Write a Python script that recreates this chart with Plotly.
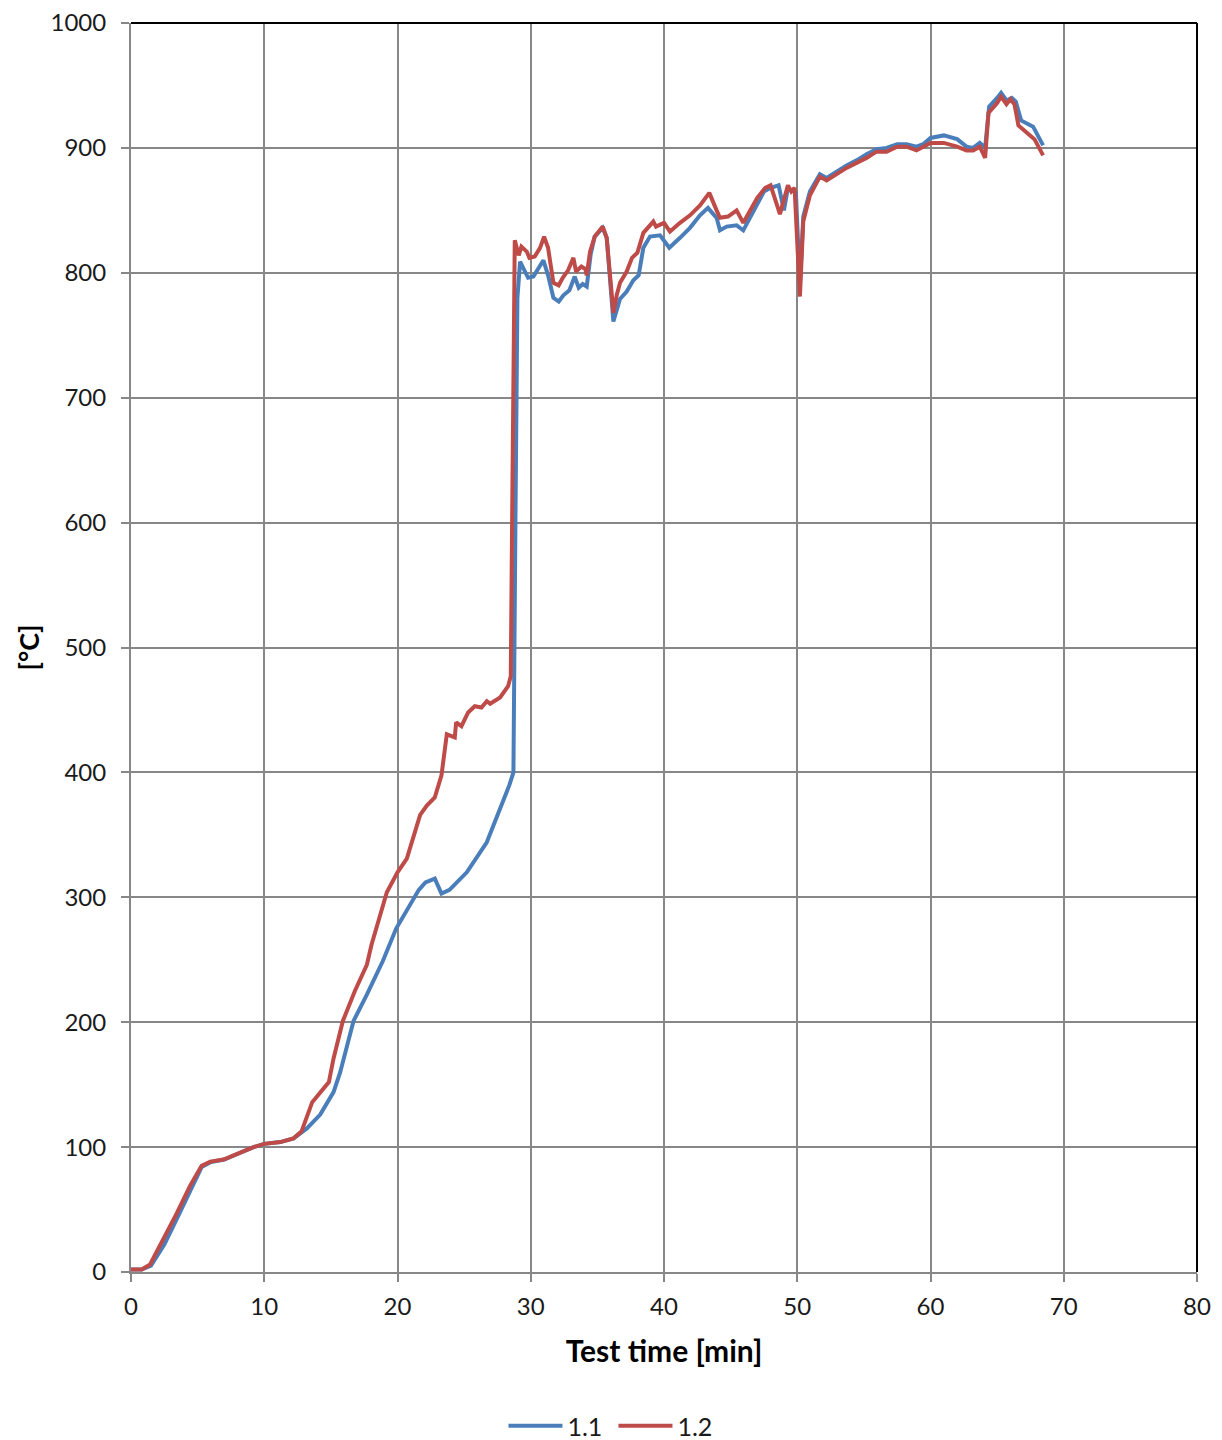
import plotly.graph_objects as go

# Series 1.1 (blue)
t_11 = [0, 0.8, 1.5, 2.5, 3.5, 4.5, 5.3, 6.0, 7.0, 8.2, 9.2, 10, 11.2, 12.2, 13.2, 14.2, 15.2, 15.7,
        16.7, 17.7, 18.9, 19.9, 20.8, 21.6, 22.1, 22.8, 23.3, 23.9, 25.2, 26.7, 28.4, 28.7, 28.85,
        29.0, 29.2, 29.45, 29.8, 30.2, 30.6, 30.95, 31.3, 31.7, 32.1, 32.45, 32.9, 33.3, 33.6, 33.9,
        34.2, 34.5, 34.8, 35.4, 35.7, 36.0, 36.2, 36.7, 37.2, 37.7, 38.1, 38.45, 38.95, 39.7, 40.0,
        40.4, 41.2, 41.95, 42.7, 43.3, 43.95, 44.2, 44.7, 45.45, 45.95, 46.45, 46.7, 47.5, 48.0,
        48.6, 49.0, 49.3, 49.6, 49.9, 50.2, 50.45, 50.95, 51.7, 52.2, 52.8, 53.7, 54.45, 55.2,
        55.95, 56.7, 57.5, 58.2, 58.95, 59.45, 60.0, 61.0, 62.0, 62.7, 63.2, 63.7, 64.1, 64.4,
        65.0, 65.3, 65.7, 66.1, 66.4, 66.8, 67.7, 68.45]
temp_11 = [2, 2, 5, 22, 44, 67, 84, 88, 90, 95.5, 100, 102.6, 104, 107, 115, 126, 144, 160,
           201, 222, 249, 275, 291, 306, 312, 315, 303, 306, 320, 344, 390, 400, 600,
           780, 809, 804, 796, 797, 804, 810, 798, 780, 777, 782, 786, 797, 788, 791,
           789, 815, 829, 836, 828, 790, 761, 779, 785, 794, 798, 820, 829, 830, 826,
           820, 828, 836, 846, 852, 844, 834, 837, 838, 834, 844, 850, 865, 868,
           870, 850, 868, 866, 864, 790, 845, 865, 879, 876, 880, 886, 890, 895,
           899, 900, 903, 903, 901, 903, 908, 910, 907, 901, 900, 904, 900, 933,
           940, 944, 938, 940, 937, 922, 917, 902]

# Series 1.2 (red)
t_12 = [0, 0.8, 1.43, 2.43, 3.43, 4.43, 5.3, 5.95, 6.95, 8.2, 9.2, 10, 11.2, 12.2, 12.8, 13.6,
        14.85, 15.2, 15.9, 16.8, 17.7, 18.05, 18.7, 19.2, 20, 20.7, 21.7, 22.2, 22.8, 23.3, 23.7,
        24.3, 24.4, 24.8, 25.3, 25.8, 26.3, 26.7, 26.95, 27.7, 28.3, 28.5, 28.6, 28.7, 28.8, 29.1,
        29.3, 29.7, 29.9, 30.3, 30.7, 31.0, 31.3, 31.7, 32.1, 32.4, 32.8, 33.2, 33.4, 33.8, 34.1,
        34.2, 34.45, 34.8, 35.4, 35.7, 36.1, 36.2, 36.45, 36.7, 37.2, 37.6, 38.0, 38.45, 39.2,
        39.4, 40.0, 40.45, 41.2, 41.95, 42.7, 43.4, 43.95, 44.2, 44.8, 45.45, 45.95, 46.45, 47.0,
        47.6, 48.0, 48.7, 49.3, 49.55, 49.8, 50.2, 50.45, 50.95, 51.7, 52.2, 52.8, 53.7, 54.45,
        55.2, 55.95, 56.7, 57.5, 58.2, 58.95, 59.45, 60.0, 61.0, 62.0, 62.7, 63.2, 63.7, 64.1,
        64.35, 65.0, 65.3, 65.7, 66.0, 66.3, 66.6, 67.2, 67.8, 68.45]
temp_12 = [2, 2, 6, 26, 47, 69, 85, 88.4, 90, 95.5, 100, 102.6, 104, 107, 112.6, 136,
           152, 171, 201, 225, 246, 262, 286, 304, 320, 331, 366, 373.5, 380, 397.6, 430.5,
           428, 440, 437, 448, 453, 452, 457, 455, 460, 469, 477, 600, 737, 826, 814,
           821, 817, 812, 813, 820, 829, 820, 792, 790, 796, 802, 812, 801, 805, 803,
           798, 817, 829, 837, 828, 782, 768, 782, 792, 801, 812, 816, 832, 841,
           837, 840, 833, 840, 846, 854, 864, 850, 844, 845, 850, 840, 850, 860,
           868, 870, 847, 870, 865, 868, 781, 841, 862, 877, 874, 878, 884, 888,
           892, 897, 897, 901, 901, 898, 901, 904, 904, 901, 898, 898, 901, 892,
           928, 936, 941, 935, 939, 935, 918, 913, 907, 894]

x_ticks = [0, 10, 20, 30, 40, 50, 60, 70, 80]
y_ticks = [0, 100, 200, 300, 400, 500, 600, 700, 800, 900, 1000]

BLUE = "#4A7EBB"
RED = "#BE4B48"
GRID = "#878787"
FONT = "Lato"

fig = go.Figure()
fig.add_trace(go.Scatter(x=t_11, y=temp_11, mode="lines", name="1.1",
                         line=dict(color=BLUE, width=4)))
fig.add_trace(go.Scatter(x=t_12, y=temp_12, mode="lines", name="1.2",
                         line=dict(color=RED, width=4)))

axis_common = dict(showgrid=True, gridcolor=GRID, gridwidth=2, showline=True,
                   linecolor=GRID, linewidth=2, ticks="outside", ticklen=8,
                   tickcolor=GRID, tickwidth=2, zeroline=False, automargin=False,
                   ticklabeloverflow="allow",
                   tickfont=dict(family=FONT, size=24, color="#1a1a1a"))

fig.update_xaxes(range=[0, 80], tickvals=x_ticks, ticklabelstandoff=4, **axis_common,
                 title=dict(text="<b>Test time [min]</b>", standoff=22,
                            font=dict(family=FONT, size=30, color="black")))
fig.update_yaxes(range=[0, 1000], tickvals=y_ticks, ticklabelstandoff=10, **axis_common,
                 title=dict(text="<b>[°C]</b>", standoff=3,
                            font=dict(family=FONT, size=27, color="black")))

# black frame on top and right
fig.add_shape(type="line", xref="paper", yref="paper", x0=0, x1=1, y0=1, y1=1,
              line=dict(color="black", width=2))
fig.add_shape(type="line", xref="paper", yref="paper", x0=1, x1=1, y0=0, y1=1,
              line=dict(color="black", width=2))

fig.update_layout(
    width=1222, height=1460,
    margin=dict(l=123, r=33, t=15, b=196),
    plot_bgcolor="white", paper_bgcolor="white",
    showlegend=True,
    legend=dict(orientation="h", x=0.4526, xanchor="center", y=-0.1233, yanchor="middle",
                font=dict(family=FONT, size=25, color="#1a1a1a"),
                itemwidth=54, entrywidth=41, tracegroupgap=0),
)

fig.write_html("out.html")
